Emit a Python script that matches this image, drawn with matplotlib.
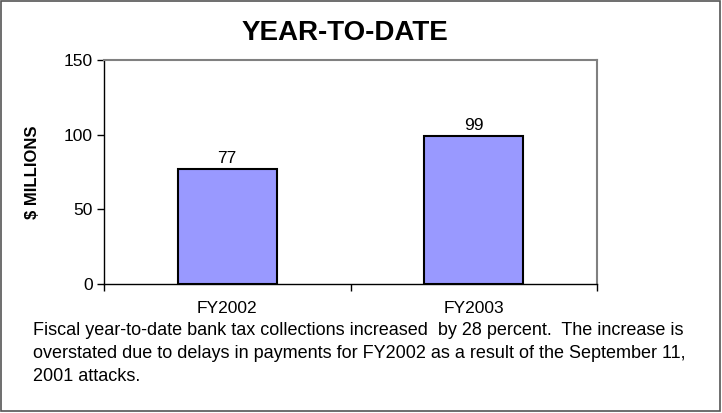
import matplotlib.pyplot as plt
from matplotlib.patches import Rectangle

plt.rcParams['font.family'] = ['Liberation Sans', 'DejaVu Sans']

# data
categories = ['FY2002', 'FY2003']
values = [77, 99]
yticks = [0, 50, 100, 150]
note = ('Fiscal year-to-date bank tax collections increased  by 28 percent.  The increase is\n'
        'overstated due to delays in payments for FY2002 as a result of the September 11,\n'
        '2001 attacks.')

fig = plt.figure(figsize=(7.22, 4.13), dpi=100)
ax = fig.add_axes([104 / 722, 1 - 284 / 413, 493 / 722, 224 / 413])

x = range(len(categories))
bars = ax.bar(x, values, width=0.4, color='#9999FF', edgecolor='black', linewidth=1.5)
for b, v in zip(bars, values):
    ax.annotate(str(v), (b.get_x() + b.get_width() / 2, v), xytext=(0, 2),
                textcoords='offset points', ha='center', va='bottom', fontsize=12.5)

ax.set_xlim(-0.5, 1.5)
ax.set_ylim(0, 150)
ax.set_yticks(yticks)
ax.tick_params(axis='y', labelsize=12.5, length=5, width=1, pad=3)
ax.set_xticks([-0.5, 0.5, 1.5])
ax.set_xticklabels([])
ax.tick_params(axis='x', length=5, width=1)
for i, c in enumerate(categories):
    ax.text(i, -0.075, c, transform=ax.get_xaxis_transform(), ha='center', va='top', fontsize=12.5)

for s in ['top', 'right']:
    ax.spines[s].set_color('#808080')
    ax.spines[s].set_linewidth(1.5)
for s in ['left', 'bottom']:
    ax.spines[s].set_linewidth(1)

ax.set_ylabel('$ MILLIONS', fontsize=12, fontweight='bold')
ax.yaxis.set_label_coords(-0.13, 0.5)

fig.text(345 / 722, 1 - 33 / 413, 'YEAR-TO-DATE', ha='center', va='center',
         fontsize=20, fontweight='bold')
fig.text(33 / 722, 1 - 322 / 413, note, ha='left', va='top', fontsize=13.0, linespacing=1.45)

fig.patches.append(Rectangle((1 / 722, 2 / 413), 719 / 722, 410 / 413, transform=fig.transFigure,
                             fill=False, edgecolor='#555555', linewidth=1.2))

fig.savefig('out.png', dpi=100)
